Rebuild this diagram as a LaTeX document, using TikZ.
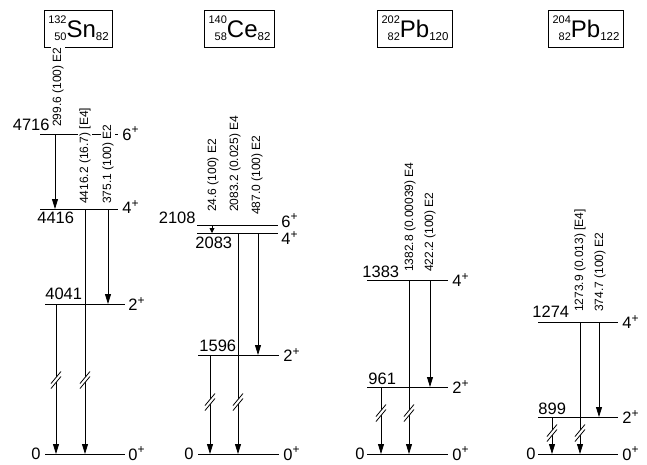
\documentclass[tikz,border=0pt]{standalone}
\usepackage{fontspec}
\setmainfont{Liberation Sans}
\usetikzlibrary{arrows.meta}

% nuclide symbol: mass, charge, element, neutrons
\newcommand{\nucl}[4]{{\fontsize{11}{11}\selectfont\raisebox{14pt}{#1}\llap{\raisebox{-3pt}{#2}}}#3{\fontsize{11.5}{11.5}\selectfont\raisebox{-3pt}{#4}}}
\newcommand{\jpi}[1]{#1\raisebox{0.42em}{\fontsize{12}{12}\selectfont +}}

\begin{document}
\begin{tikzpicture}[
  x=1pt, y=-1pt,
  lvl/.style={line width=0.8pt},
  tr/.style={line width=0.8pt, -{Triangle[length=10pt,width=6pt]}},
  trs/.style={line width=0.8pt, -{Triangle[length=5pt,width=5pt]}},
  nuc/.style={draw, line width=0.8pt, inner xsep=4pt, minimum height=37pt,
              font=\fontsize{24}{24}\selectfont},
  en/.style={font=\fontsize{16.5}{16.5}\selectfont, inner sep=0pt},
  jp/.style={font=\fontsize{16.5}{16.5}\selectfont, inner sep=0pt, anchor=west},
  gam/.style={font=\fontsize{12}{12}\selectfont, rotate=90, anchor=west,
              fill=white, inner sep=1pt},
  brk/.pic={
    \fill[white] (-5,3.5) -- (5,-8.5) -- (5,-3.5) -- (-5,8.5) -- cycle;
    \draw[line width=0.8pt] (-5,3.5) -- (5,-8.5) (-5,8.5) -- (5,-3.5);},
]
\useasboundingbox (0,0) rectangle (647,464);

% ---------------- 132Sn ----------------
\node[nuc] (sn) at (78.5,28.5) {\nucl{132}{50}{Sn}{82}};
\coordinate (snA) at (40,134);  % 4716
\coordinate (snB) at (40,209);  % 4416
\coordinate (snC) at (45,304);  % 4041
\coordinate (snD) at (45,454);  % 0
\coordinate (snT1) at (55,0);
\coordinate (snT2) at (85,0);
\coordinate (snT3) at (108,0);
\coordinate (snT4) at (56,0);

\draw[lvl] (snA) node[en, anchor=base east, xshift=10pt, yshift=4pt] {4716}
  -- ++(78,0) node[jp, xshift=4pt] {\jpi{6}};
\draw[lvl] (snB) node[en, anchor=base west, xshift=-3pt, yshift=-14pt] {4416}
  -- ++(78,0) node[jp, xshift=4pt, yshift=2pt] {\jpi{4}};
\draw[lvl] (snC) node[en, anchor=base west, yshift=5pt] {4041}
  -- ++(80,0) node[jp, xshift=3pt] {\jpi{2}};
\draw[lvl] (snD) node[en, anchor=east, xshift=-4pt] {0}
  -- ++(80,0) node[jp, xshift=3pt] {\jpi{0}};

\node[gam] (sng1) at (58,128) {299.6 (100) E2};
\node[gam] (sng2) at (85,205) {4416.2 (16.7) [E4]};
\node[gam] (sng3) at (108,205) {375.1 (100) E2};

\draw[tr] (snT1 |- snA) -- (snT1 |- snB);
\draw[tr] (snT2 |- snB) -- (snT2 |- snD);
\draw[tr] (snT3 |- snB) -- (snT3 |- snC);
\draw[tr] (snT4 |- snC) -- (snT4 |- snD);
\pic at (snT2 |- 0,380) {brk};
\pic at (snT4 |- 0,380) {brk};

% ---------------- 140Ce ----------------
\node[nuc] (ce) at (239.5,28.5) {\nucl{140}{58}{Ce}{82}};
\coordinate (ceA) at (197,225);  % 2108
\coordinate (ceB) at (197,233);  % 2083
\coordinate (ceC) at (198,355);  % 1596
\coordinate (ceD) at (198,454);  % 0
\coordinate (ceT1) at (212,0);
\coordinate (ceT2) at (238,0);
\coordinate (ceT3) at (258,0);
\coordinate (ceT4) at (210,0);

\draw[lvl] (ceA) node[en, anchor=base east, xshift=-1pt, yshift=2pt] {2108}
  -- ++(81,0) node[jp, xshift=3pt, yshift=4pt] {\jpi{6}};
\draw[lvl] (ceB) node[en, anchor=base west, xshift=-2pt, yshift=-15pt] {2083}
  -- ++(81,0) node[jp, xshift=3pt, yshift=-5pt] {\jpi{4}};
\draw[lvl] (ceC) node[en, anchor=base west, xshift=1pt, yshift=4pt] {1596}
  -- ++(81,0) node[jp, xshift=4pt] {\jpi{2}};
\draw[lvl] (ceD) node[en, anchor=east, xshift=-4pt] {0}
  -- ++(81,0) node[jp, xshift=4pt] {\jpi{0}};

\node[gam] (ceg1) at (213,213) {24.6 (100) E2};
\node[gam] (ceg2) at (235,213) {2083.2 (0.025) E4};
\node[gam] (ceg3) at (257,216) {487.0 (100) E2};

\draw[trs] (ceT1 |- ceA) -- (ceT1 |- ceB);
\draw[tr] (ceT2 |- ceB) -- (ceT2 |- ceD);
\draw[tr] (ceT3 |- ceB) -- (ceT3 |- ceC);
\draw[tr] (ceT4 |- ceC) -- (ceT4 |- ceD);
\pic at (ceT2 |- 0,402) {brk};
\pic at (ceT4 |- 0,402) {brk};

% ---------------- 202Pb ----------------
\node[nuc] (pba) at (415,28.5) {\nucl{202}{82}{Pb}{120}};
\coordinate (paA) at (367,280);  % 1383
\coordinate (paB) at (367,387);  % 961
\coordinate (paC) at (367,454);  % 0
\coordinate (paT1) at (409,0);
\coordinate (paT2) at (430,0);
\coordinate (paT3) at (381,0);

\draw[lvl] (paA) node[en, anchor=base west, xshift=-5pt, yshift=3pt] {1383}
  -- ++(81,0) node[jp, xshift=4pt] {\jpi{4}};
\draw[lvl] (paB) node[en, anchor=base west, xshift=1pt, yshift=3pt] {961}
  -- ++(81,0) node[jp, xshift=4pt] {\jpi{2}};
\draw[lvl] (paC) node[en, anchor=east, xshift=-2pt] {0}
  -- ++(81,0) node[jp, xshift=4pt] {\jpi{0}};

\node[gam] (pag1) at (410,273) {1382.8 (0.00039) E4};
\node[gam] (pag2) at (430,273) {422.2 (100) E2};

\draw[tr] (paT1 |- paA) -- (paT1 |- paC);
\draw[tr] (paT2 |- paA) -- (paT2 |- paB);
\draw[tr] (paT3 |- paB) -- (paT3 |- paC);
\pic at (paT1 |- 0,413) {brk};
\pic at (paT3 |- 0,413) {brk};

% ---------------- 204Pb ----------------
\node[nuc] (pbb) at (586,28.5) {\nucl{204}{82}{Pb}{122}};
\coordinate (pbA) at (538,322);  % 1274
\coordinate (pbB) at (538,417);  % 899
\coordinate (pbC) at (538,454);  % 0
\coordinate (pbT1) at (580,0);
\coordinate (pbT2) at (599,0);
\coordinate (pbT3) at (552,0);

\draw[lvl] (pbA) node[en, anchor=base west, xshift=-6pt, yshift=5pt] {1274}
  -- ++(80,0) node[jp, xshift=4pt] {\jpi{4}};
\draw[lvl] (pbB) node[en, anchor=base west, yshift=3pt] {899}
  -- ++(80,0) node[jp, xshift=4pt] {\jpi{2}};
\draw[lvl] (pbC) node[en, anchor=east, xshift=-2pt] {0}
  -- ++(80,0) node[jp, xshift=4pt] {\jpi{0}};

\node[gam] (pbg1) at (580,313) {1273.9 (0.013) [E4]};
\node[gam] (pbg2) at (600,313) {374.7 (100) E2};

\draw[tr] (pbT1 |- pbA) -- (pbT1 |- pbC);
\draw[tr] (pbT2 |- pbA) -- (pbT2 |- pbB);
\draw[tr] (pbT3 |- pbB) -- (pbT3 |- pbC);
\pic at (pbT1 |- 0,433) {brk};
\pic at (pbT3 |- 0,433) {brk};

\end{tikzpicture}
\end{document}
